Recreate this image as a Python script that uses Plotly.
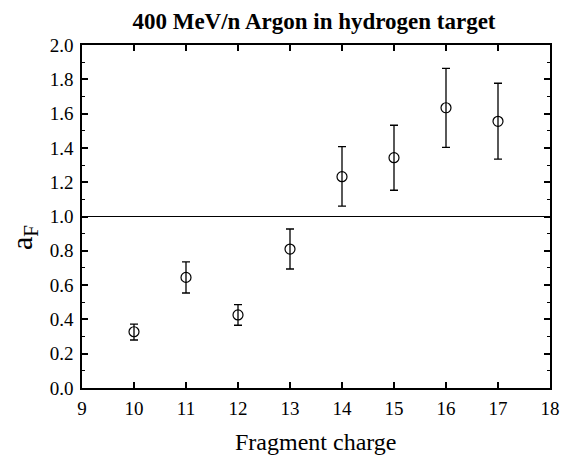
import plotly.graph_objects as go

charge = [10, 11, 12, 13, 14, 15, 16, 17]
a_f = [0.328, 0.645, 0.426, 0.810, 1.232, 1.343, 1.634, 1.555]
err_plus = [0.045, 0.091, 0.060, 0.117, 0.175, 0.189, 0.230, 0.222]
err_minus = [0.048, 0.091, 0.060, 0.116, 0.171, 0.190, 0.231, 0.220]

x_ticks = list(range(9, 19))
y_ticks = [round(0.2 * i, 1) for i in range(11)]
y_ticklabels = [f"{v:.1f}" for v in y_ticks]

FONT = "Liberation Serif"

fig = go.Figure()
fig.add_trace(go.Scatter(
    x=charge, y=a_f, mode="markers",
    marker=dict(symbol="circle-open", size=10, color="black", line=dict(width=1.2)),
    error_y=dict(type="data", symmetric=False, array=err_plus, arrayminus=err_minus,
                 color="black", thickness=1.3, width=4),
    showlegend=False,
))

fig.add_shape(type="line", xref="x domain", yref="y", x0=0, x1=1, y0=1.0, y1=1.0,
              line=dict(color="black", width=1.2))

fig.add_annotation(text="a<sub>F</sub>", xref="paper", yref="paper", x=-0.124, y=0.44,
                   xanchor="center", yanchor="middle", textangle=-90, showarrow=False,
                   font=dict(size=30, family=FONT, color="black"))

fig.add_annotation(text="Fragment charge", xref="paper", yref="paper", x=0.5, y=-0.158,
                   xanchor="center", yanchor="middle", showarrow=False,
                   font=dict(size=24, family=FONT, color="black"))

fig.update_layout(
    width=563, height=449,
    margin=dict(l=74, r=21, t=37, b=69),
    paper_bgcolor="white", plot_bgcolor="white",
    font=dict(family=FONT, color="black", size=19),
    title=dict(text="<b>400 MeV/n Argon in hydrogen target</b>", x=0.5435, xanchor="center",
               y=0.972, yanchor="middle", font=dict(size=23, family=FONT, color="black")),
)
fig.update_xaxes(
    range=[9, 18], tickvals=x_ticks, ticktext=[str(v) for v in x_ticks],
    showgrid=False, zeroline=False, showline=True, linecolor="black", linewidth=1.5,
    mirror="allticks", ticks="inside", ticklen=6, tickwidth=1.5, tickcolor="black",
    tickfont=dict(size=19, family=FONT), ticklabelstandoff=2, automargin=False,
)
fig.update_yaxes(
    range=[0, 2.0], tickvals=y_ticks, ticktext=y_ticklabels,
    showgrid=False, zeroline=False, showline=True, linecolor="black", linewidth=1.5,
    mirror="allticks", ticks="inside", ticklen=6, tickwidth=1.5, tickcolor="black",
    minor=dict(dtick=0.1, ticks="inside", ticklen=3, tickwidth=1.2, tickcolor="black", showgrid=False),
    tickfont=dict(size=19, family=FONT), ticklabelstandoff=3, automargin=False,
)

fig.write_html("out.html")
